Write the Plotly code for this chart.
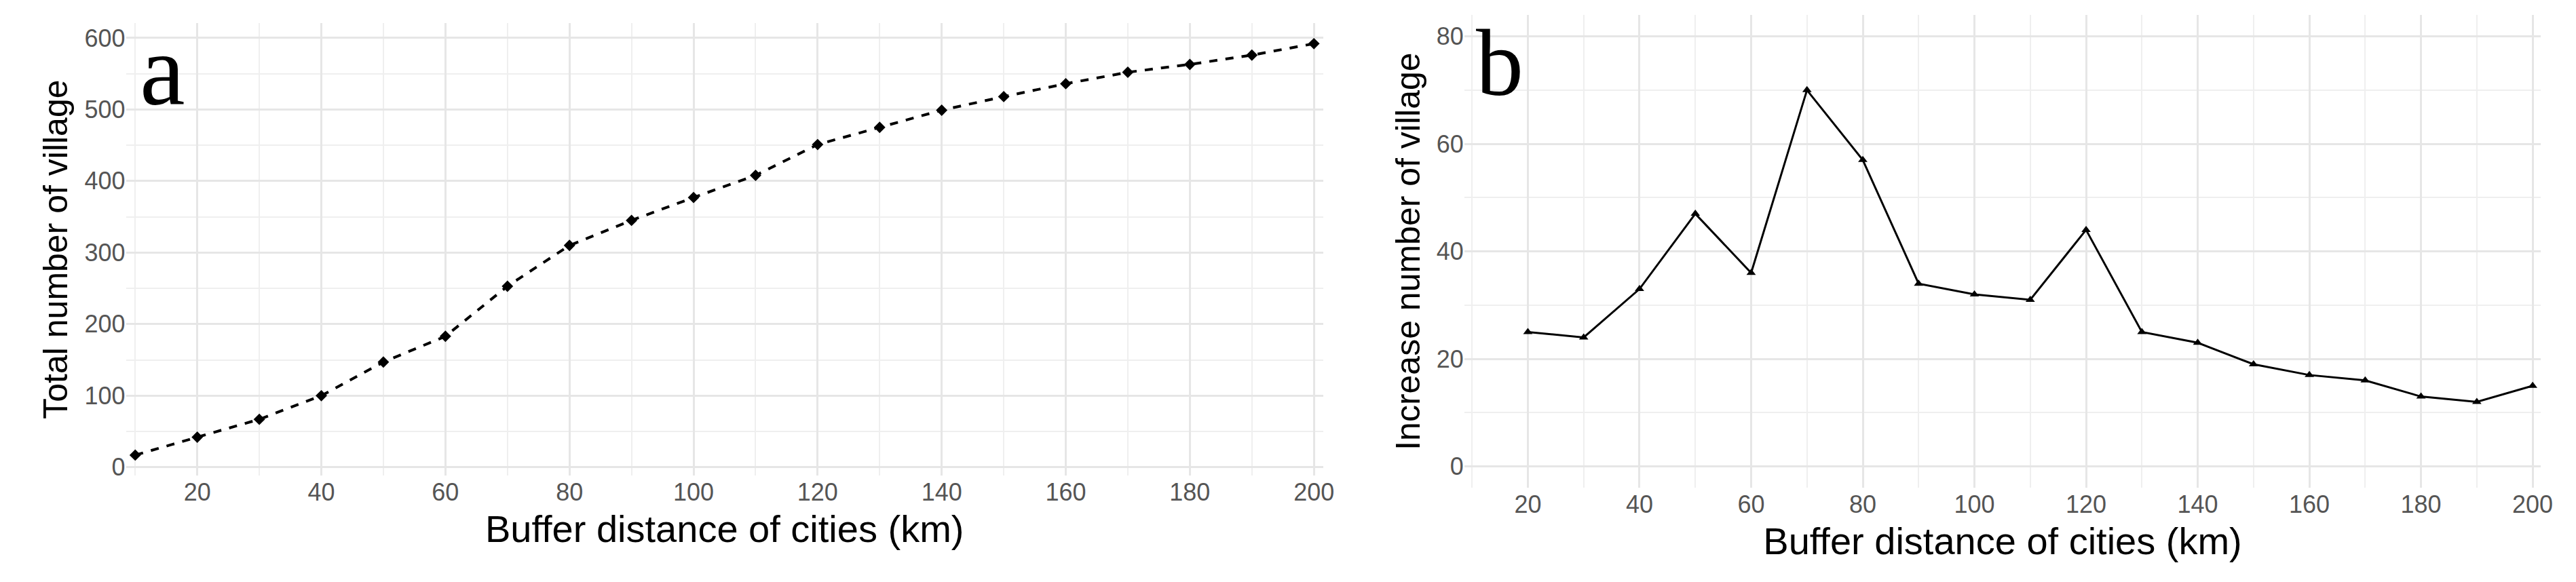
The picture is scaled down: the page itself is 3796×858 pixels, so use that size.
import plotly.graph_objects as go

dist_a = [10,20,30,40,50,60,70,80,90,100,110,120,130,140,150,160,170,180,190,200]
total = [17,42,67,100,147,183,253,310,345,377,408,451,475,499,518,536,552,563,576,592]
dist_b = [20,30,40,50,60,70,80,90,100,110,120,130,140,150,160,170,180,190,200]
incr = [25,24,33,47,36,70,57,34,32,31,44,25,23,19,17,16,13,12,15]
xticks = [20,40,60,80,100,120,140,160,180,200]

fig = go.Figure()
fig.add_trace(go.Scatter(x=dist_a, y=total, mode="lines+markers",
    line=dict(color="black", width=4, dash="dash"),
    marker=dict(symbol="diamond", size=13, color="black"), xaxis="x", yaxis="y"))
fig.add_trace(go.Scatter(x=dist_b, y=incr, mode="lines+markers",
    line=dict(color="black", width=3),
    marker=dict(symbol="triangle-up", size=12, color="black"), xaxis="x2", yaxis="y2"))

H = 858
tickf = dict(family="Liberation Sans Narrow, Arial Narrow, sans-serif", size=36, color="#555555")
titlef = dict(family="Liberation Sans Narrow, Arial Narrow, sans-serif", size=56, color="black")
ytitlef = dict(family="Liberation Sans, Arial, sans-serif", size=50, color="black")
grid = dict(showgrid=True, gridcolor="#e6e6e6", gridwidth=3, zeroline=False, showline=False,
            tickfont=tickf, ticks="")
mn = dict(showgrid=True, gridcolor="#efefef", gridwidth=2)
fig.update_layout(
    width=3796, height=H, plot_bgcolor="white", paper_bgcolor="white", showlegend=False,
    margin=dict(l=0, r=0, t=0, b=0),
    xaxis=dict(domain=[0.047, 0.514], range=[8.5, 201.5], tickvals=xticks,
               minor=dict(dtick=10, **mn),
               title=dict(text="Buffer distance of cities (km)", font=titlef, standoff=14), **grid),
    yaxis=dict(domain=[1-700/H, 1-26/H], range=[-12, 621], dtick=100,
               minor=dict(dtick=50, **mn),
               title=dict(text="Total number of village", font=ytitlef, standoff=8), **grid),
    xaxis2=dict(domain=[0.569, 0.989], range=[8.6, 201.5], tickvals=xticks, anchor="y2",
                minor=dict(dtick=10, **mn),
                title=dict(text="Buffer distance of cities (km)", font=titlef, standoff=14), **grid),
    yaxis2=dict(domain=[1-718/H, 1-14/H], range=[-4, 84], dtick=20, anchor="x2",
                minor=dict(dtick=10, **mn),
                title=dict(text="Increase number of village", font=ytitlef, standoff=8), **grid),
    annotations=[
        dict(text="a", x=0.052, y=1-10/H, xref="paper", yref="paper", xanchor="left", yanchor="top",
             showarrow=False, font=dict(family="Liberation Serif, Times New Roman, serif", size=150, color="black")),
        dict(text="b", x=0.573, y=1-5/H, xref="paper", yref="paper", xanchor="left", yanchor="top",
             showarrow=False, font=dict(family="Liberation Serif, Times New Roman, serif", size=140, color="black")),
    ],
)
fig.write_html("out.html")
